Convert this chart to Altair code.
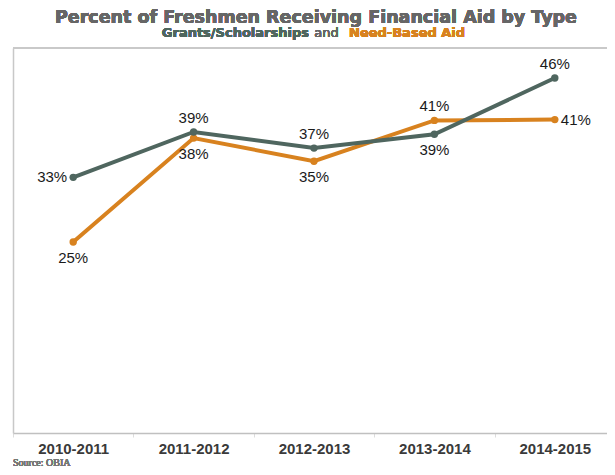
import altair as alt
import pandas as pd

years = ["2010-2011", "2011-2012", "2012-2013", "2013-2014", "2014-2015"]
grants = [33.2, 39.1, 37.0, 38.8, 46.1]
need = [24.8, 38.3, 35.3, 40.6, 40.7]
grants_pos = ["left", "above", "above", "below", "above"]
need_pos = ["below", "below", "below", "above", "right"]

series_names = ["Need-Based Aid", "Grants/Scholarships"]
colors = ["#d8821f", "#4f665f"]

rows = []
for i, y in enumerate(years):
    rows.append({"year": y, "series": "Need-Based Aid", "value": need[i], "pos": need_pos[i], "order": 0})
    rows.append({"year": y, "series": "Grants/Scholarships", "value": grants[i], "pos": grants_pos[i], "order": 1})
df = pd.DataFrame(rows)

W, H = 594, 385
XR = 602  # band scale range (plot continues past the page edge)
label_font = "Liberation Sans"
title_font = "DejaVu Sans"

x = alt.X(
    "year:N",
    sort=years,
    scale=alt.Scale(type="band", paddingInner=0, paddingOuter=0, range=[0, XR]),
    axis=alt.Axis(
        title=None,
        tickBand="extent",
        labelFont=label_font,
        labelFontSize=15,
        labelFontWeight="bold",
        labelColor="#3a3a3a",
        labelPadding=4,
        labelAngle=0,
        tickSize=4,
        tickColor="#dddddd",
        domainColor="#c0c0c0",
        domainWidth=1.5,
        grid=False,
    ),
    bandPosition=0.5,
)
y = alt.Y(
    "value:Q",
    scale=alt.Scale(domain=[0, 50], nice=False, zero=True),
    axis=alt.Axis(
        title=None, labels=False, ticks=False, grid=False,
        domainColor="#c8c8c8", domainWidth=1.5,
    ),
)
color = alt.Color("series:N", scale=alt.Scale(domain=series_names, range=colors), legend=None)

base = alt.Chart(df)

need_line = base.transform_filter(alt.datum.series == "Need-Based Aid").mark_line(strokeWidth=4, color=colors[0]).encode(x=x, y=y)
grant_line = base.transform_filter(alt.datum.series == "Grants/Scholarships").mark_line(strokeWidth=4, color=colors[1]).encode(x=x, y=y)
pts = base.mark_circle(size=55, opacity=1).encode(x=x, y=y, color=color, order="order:Q")

place = {
    "left": dict(align="right", dx=-6, dy=0),
    "right": dict(align="left", dx=6, dy=0),
    "above": dict(align="center", dx=0, dy=-14),
    "below": dict(align="center", dx=0, dy=16),
}
label_layers = []
for p, kw in place.items():
    label_layers.append(
        base.transform_filter(alt.datum.pos == p)
        .transform_calculate(lab="format(datum.value, '.0f') + '%'")
        .mark_text(font=label_font, fontSize=15, color="#1a1a1a", baseline="middle", **kw)
        .encode(x=x, y=y, text="lab:N")
    )

top_border = alt.Chart(df).mark_rule(color="#c8c8c8", strokeWidth=1.5).encode(
    x=alt.value(0), x2=alt.value(XR), y=alt.value(0)
)

title = alt.Chart(df).mark_text(
    text="Percent of Freshmen Receiving Financial Aid by Type",
    font=title_font, fontSize=17.5, fontWeight="bold", color="#666666",
    align="center", baseline="alphabetic",
).encode(x=alt.value(303), y=alt.value(-25.5))

sub1 = alt.Chart(df).mark_text(
    text="Grants/Scholarships", font=title_font, fontSize=13, fontWeight="bold",
    color=colors[1], align="right", baseline="alphabetic",
).encode(x=alt.value(296), y=alt.value(-11))
sub2 = alt.Chart(df).mark_text(
    text="and", font=title_font, fontSize=13, color="#666666",
    align="center", baseline="alphabetic",
).encode(x=alt.value(313.5), y=alt.value(-11))
sub3 = alt.Chart(df).mark_text(
    text="Need-Based Aid", font=title_font, fontSize=13, fontWeight="bold",
    color=colors[0], align="left", baseline="alphabetic",
).encode(x=alt.value(336), y=alt.value(-11))

source = alt.Chart(df).mark_text(
    text="Source: OBIA", font="Liberation Sans Narrow", fontSize=10, color="#777777",
    align="left", baseline="alphabetic",
).encode(x=alt.value(0), y=alt.value(418))

chart = alt.layer(
    top_border, need_line, grant_line, pts, *label_layers, title, sub1, sub2, sub3, source
).properties(
    width=W, height=H,
    background="white",
    autosize=alt.AutoSizeParams(type="none"),
    padding={"left": 5, "top": 40, "right": 0, "bottom": 34},
).configure_view(stroke="transparent", strokeWidth=0)

chart.save("out.html", embed_options={"renderer": "svg", "actions": False})
